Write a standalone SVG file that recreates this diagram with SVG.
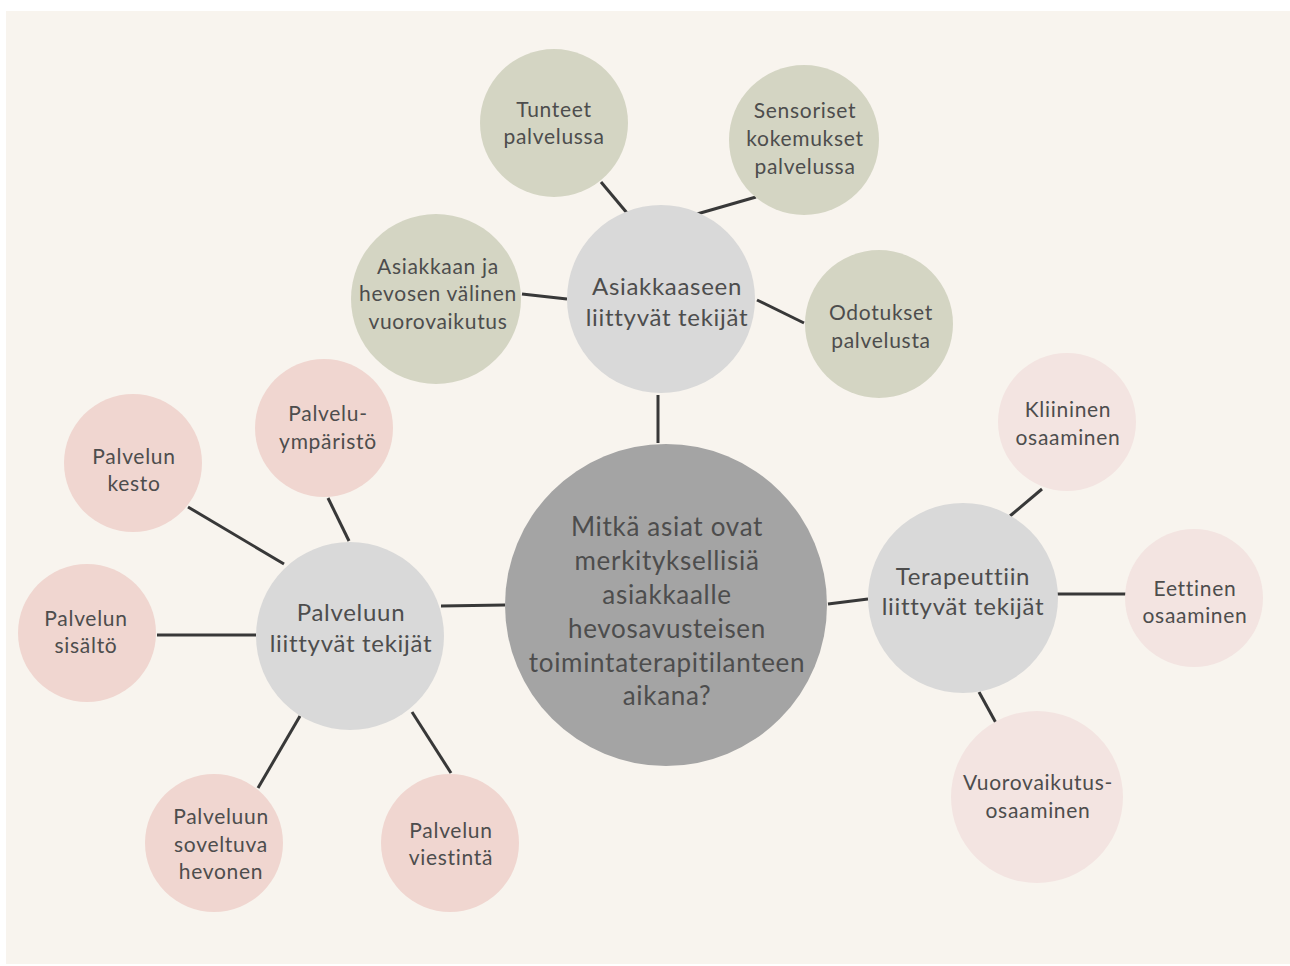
<svg xmlns="http://www.w3.org/2000/svg" width="1290" height="966" viewBox="0 0 1290 966">
  <style>
    text { font-family: "Lato", "Liberation Sans", sans-serif; font-weight: 400; fill: #4d4d4d; text-anchor: middle; letter-spacing: 0.7px; }
    .hub { fill: #a4a4a4; }
    .mid { fill: #d9d9d9; }
    .sage { fill: #d4d5c3; }
    .rose { fill: #f0d6d0; }
    .blush { fill: #f3e4e1; }
    .big { font-size: 26px; }
    .med { font-size: 24px; }
    .sm { font-size: 21px; }
    #connectors line { stroke: #383838; stroke-width: 3; stroke-linecap: butt; }
  </style>

  <rect x="0" y="0" width="1290" height="966" fill="#ffffff"/>
  <rect x="6" y="11" width="1284" height="953" fill="#f8f4ee"/>

  <g id="connectors">
    <line x1="658" y1="395" x2="658" y2="443"/>
    <line x1="441" y1="606" x2="505" y2="605"/>
    <line x1="828" y1="604" x2="868" y2="599"/>
    <line x1="601" y1="182" x2="627" y2="213"/>
    <line x1="697" y1="214" x2="756" y2="197"/>
    <line x1="522" y1="294" x2="567" y2="299"/>
    <line x1="757" y1="300" x2="804" y2="323"/>
    <line x1="328" y1="498" x2="349" y2="541"/>
    <line x1="188" y1="507" x2="284" y2="564"/>
    <line x1="157" y1="635" x2="256" y2="635"/>
    <line x1="300" y1="716" x2="258" y2="788"/>
    <line x1="412" y1="712" x2="451" y2="773"/>
    <line x1="1042" y1="489" x2="1010" y2="516"/>
    <line x1="1057" y1="594" x2="1126" y2="594"/>
    <line x1="979" y1="692" x2="996" y2="723"/>
  </g>

  <g id="hub">
    <circle class="hub" cx="666" cy="605" r="161"/>
    <text class="big" x="667" y="536">Mitkä asiat ovat</text>
    <text class="big" x="667" y="570">merkityksellisiä</text>
    <text class="big" x="667" y="604">asiakkaalle</text>
    <text class="big" x="667" y="638">hevosavusteisen</text>
    <text class="big" x="667" y="672">toimintaterapitilanteen</text>
    <text class="big" x="667" y="705">aikana?</text>
  </g>

  <g id="asiakkaaseen">
    <circle class="mid" cx="661" cy="299" r="94"/>
    <text class="med" x="667" y="295">Asiakkaaseen</text>
    <text class="med" x="667" y="326">liittyvät tekijät</text>
  </g>
  <g id="tunteet">
    <circle class="sage" cx="554" cy="123" r="74"/>
    <text class="sm" x="554" y="117">Tunteet</text>
    <text class="sm" x="554" y="144">palvelussa</text>
  </g>
  <g id="sensoriset">
    <circle class="sage" cx="804" cy="140" r="75"/>
    <text class="sm" x="805" y="118">Sensoriset</text>
    <text class="sm" x="805" y="146">kokemukset</text>
    <text class="sm" x="805" y="174">palvelussa</text>
  </g>
  <g id="vuorovaikutus-hevonen">
    <circle class="sage" cx="436" cy="299" r="85"/>
    <text class="sm" x="438" y="274">Asiakkaan ja</text>
    <text class="sm" x="438" y="301">hevosen välinen</text>
    <text class="sm" x="438" y="329">vuorovaikutus</text>
  </g>
  <g id="odotukset">
    <circle class="sage" cx="879" cy="324" r="74"/>
    <text class="sm" x="881" y="320">Odotukset</text>
    <text class="sm" x="881" y="348">palvelusta</text>
  </g>

  <g id="palveluun">
    <circle class="mid" cx="350" cy="636" r="94"/>
    <text class="med" x="351" y="621">Palveluun</text>
    <text class="med" x="351" y="652">liittyvät tekijät</text>
  </g>
  <g id="ymparisto">
    <circle class="rose" cx="324" cy="428" r="69"/>
    <text class="sm" x="328" y="421">Palvelu-</text>
    <text class="sm" x="328" y="449">ympäristö</text>
  </g>
  <g id="kesto">
    <circle class="rose" cx="133" cy="463" r="69"/>
    <text class="sm" x="134" y="464">Palvelun</text>
    <text class="sm" x="134" y="491">kesto</text>
  </g>
  <g id="sisalto">
    <circle class="rose" cx="87" cy="633" r="69"/>
    <text class="sm" x="86" y="626">Palvelun</text>
    <text class="sm" x="86" y="653">sisältö</text>
  </g>
  <g id="hevonen">
    <circle class="rose" cx="214" cy="843" r="69"/>
    <text class="sm" x="221" y="824">Palveluun</text>
    <text class="sm" x="221" y="852">soveltuva</text>
    <text class="sm" x="221" y="879">hevonen</text>
  </g>
  <g id="viestinta">
    <circle class="rose" cx="450" cy="843" r="69"/>
    <text class="sm" x="451" y="838">Palvelun</text>
    <text class="sm" x="451" y="865">viestintä</text>
  </g>

  <g id="terapeuttiin">
    <circle class="mid" cx="963" cy="598" r="95"/>
    <text class="med" x="963" y="585">Terapeuttiin</text>
    <text class="med" x="963" y="615">liittyvät tekijät</text>
  </g>
  <g id="kliininen">
    <circle class="blush" cx="1067" cy="422" r="69"/>
    <text class="sm" x="1068" y="417">Kliininen</text>
    <text class="sm" x="1068" y="445">osaaminen</text>
  </g>
  <g id="eettinen">
    <circle class="blush" cx="1194" cy="598" r="69"/>
    <text class="sm" x="1195" y="596">Eettinen</text>
    <text class="sm" x="1195" y="623">osaaminen</text>
  </g>
  <g id="vuorovaikutus-osaaminen">
    <circle class="blush" cx="1037" cy="797" r="86"/>
    <text class="sm" x="1038" y="790">Vuorovaikutus-</text>
    <text class="sm" x="1038" y="818">osaaminen</text>
  </g>
</svg>
